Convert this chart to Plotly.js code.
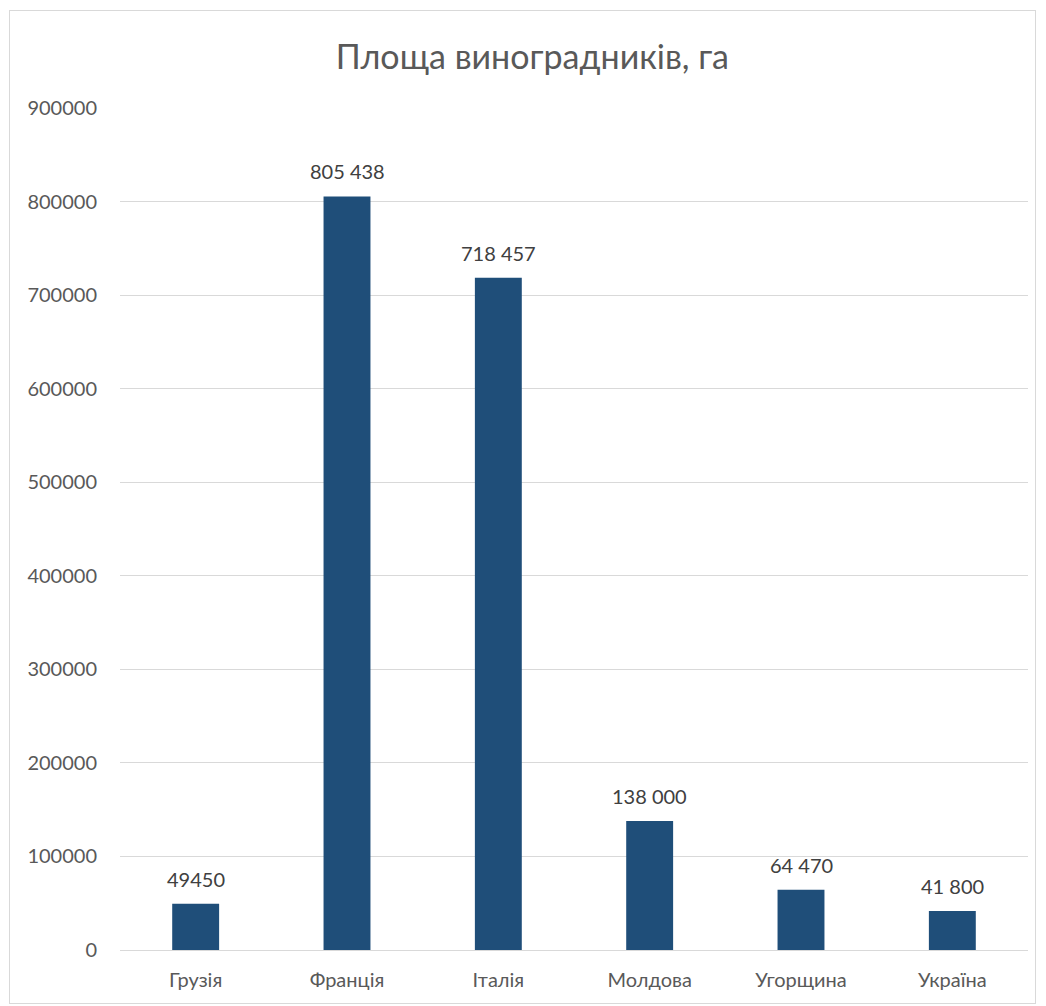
<!DOCTYPE html>
<html>
<head>
<meta charset="utf-8">
<script src="https://cdn.plot.ly/plotly-3.0.1.min.js"></script>
<style>
html,body{margin:0;padding:0;background:#fff;}
#wrap{position:relative;width:1046px;height:1006px;}
#chart{position:absolute;left:0;top:0;width:1046px;height:1006px;}
#frame{position:absolute;left:9px;top:10px;width:1027px;height:994px;border:1px solid #d9d9d9;box-sizing:border-box;pointer-events:none;}
</style>
</head>
<body>
<div id="wrap"><div id="chart"></div><div id="frame"></div></div>
<script>
const categories = ["Грузія", "Франція", "Італія", "Молдова", "Угорщина", "Україна"];
const areas = [49450, 805438, 718457, 138000, 64470, 41800];
const labels = ["49450", "805 438", "718 457", "138 000", "64 470", "41 800"];
const yTicks = [0, 100000, 200000, 300000, 400000, 500000, 600000, 700000, 800000, 900000];

const font = "Lato, 'Open Sans', sans-serif";
const annotations = categories.map((c, i) => ({
  x: c, y: areas[i], xref: "x", yref: "y", text: labels[i], showarrow: false,
  yanchor: "middle", xanchor: "center", yshift: 25,
  font: {family: font, size: 20, color: "#404040"}
}));
Plotly.newPlot("chart", [{
  type: "bar",
  x: categories,
  y: areas,
  marker: {color: "#1f4e79"},
  hoverinfo: "x+y"
}], {
  width: 1046, height: 1006,
  margin: {l: 120, r: 18, t: 108, b: 56},
  paper_bgcolor: "#ffffff",
  plot_bgcolor: "#ffffff",
  bargap: 0.69,
  showlegend: false,
  annotations: annotations,
  title: {text: "Площа виноградників, га", x: 0.509, xanchor: "center", y: 0.943, yanchor: "middle",
          font: {family: font, size: 34, color: "#595959"}},
  xaxis: {type: "category", showgrid: false, showline: false, ticks: "", zeroline: false,
          tickfont: {family: font, size: 20, color: "#595959"}, ticklabelstandoff: 16},
  yaxis: {range: [0, 900000], tickvals: yTicks, ticktext: yTicks.map(String),
          showgrid: true, gridcolor: "#d9d9d9", gridwidth: 1, zeroline: true, zerolinecolor: "#d9d9d9",
          zerolinewidth: 1, showline: false, ticks: "", ticklabelstandoff: 22,
          tickfont: {family: font, size: 20, color: "#595959"}}
}, {displayModeBar: false, staticPlot: true});
</script>
</body>
</html>
